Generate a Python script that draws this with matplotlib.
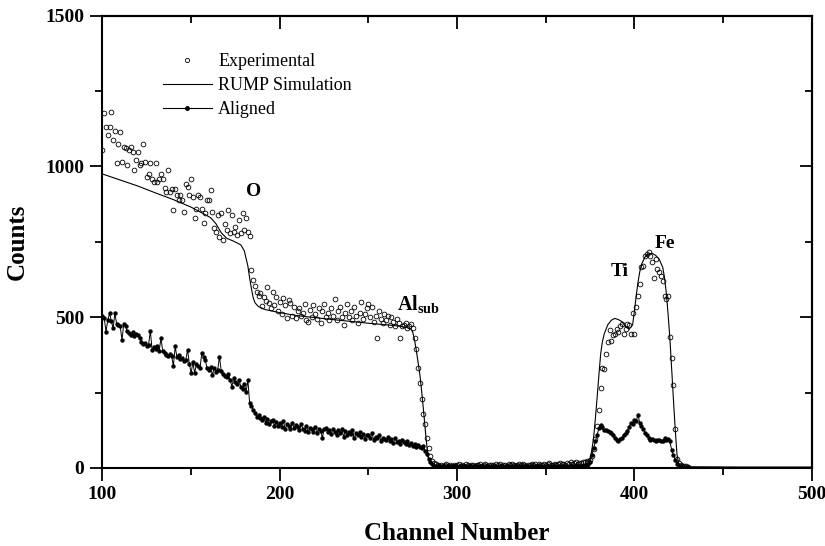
import numpy as np
import matplotlib
matplotlib.use("Agg")
import matplotlib.pyplot as plt
from matplotlib.lines import Line2D

plt.rcParams['font.family'] = ['Liberation Serif', 'DejaVu Serif']
plt.rcParams['mathtext.fontset'] = 'custom'
plt.rcParams['mathtext.rm'] = 'Liberation Serif'
plt.rcParams['mathtext.bf'] = 'Liberation Serif:bold'

# --- RBS spectra, one value per channel (100..430) ---
channels = np.arange(100, 431)

experimental = [
    1054, 1176, 1132, 1104, 1132, 1182, 1089, 1118, 1010, 1076,
    1115, 1015, 1065, 1060, 1004, 1054, 1065, 1048, 987, 1023,
    1048, 1004, 1010, 1076, 1015, 965, 976, 1010, 960, 949,
    1010, 949, 960, 976, 960, 927, 916, 987, 916, 924,
    855, 924, 905, 888, 905, 888, 850, 943, 932, 905,
    960, 899, 828, 860, 905, 899, 860, 811, 845, 888,
    888, 921, 850, 795, 784, 838, 767, 844, 756, 810,
    789, 855, 778, 838, 784, 800, 773, 822, 778, 844,
    790, 828, 784, 770, 657, 624, 602, 585, 569, 580,
    536, 568, 555, 601, 547, 531, 585, 540, 568, 520,
    551, 510, 562, 540, 496, 557, 546, 505, 535, 496,
    520, 530, 505, 513, 545, 490, 485, 525, 500, 540,
    510, 495, 530, 480, 520, 545, 500, 515, 490, 530,
    505, 560, 490, 520, 535, 500, 475, 515, 545, 500,
    520, 490, 535, 505, 480, 515, 550, 495, 510, 530,
    545, 500, 535, 485, 505, 432, 520, 495, 480, 510,
    490, 505, 475, 500, 485, 470, 495, 480, 432, 470,
    475, 480, 465, 470, 478, 465, 430, 396, 333, 283,
    230, 180, 146, 100, 67, 40, 23, 15, 12, 9,
    8, 10, 6, 9, 12, 7, 10, 8, 11, 6,
    9, 12, 7, 10, 8, 13, 9, 6, 11, 10,
    7, 11, 9, 13, 8, 10, 12, 7, 9, 11,
    10, 8, 12, 9, 14, 7, 11, 10, 8, 12,
    9, 13, 10, 7, 11, 12, 9, 14, 10, 8,
    11, 9, 13, 10, 12, 8, 14, 11, 9, 13,
    10, 12, 15, 9, 11, 14, 10, 13, 16, 12,
    14, 11, 16, 13, 18, 12, 15, 20, 14, 17,
    16, 20, 18, 22, 18, 25, 40, 62, 96, 140,
    192, 265, 332, 327, 378, 417, 456, 422, 440, 445,
    462, 451, 470, 479, 445, 460, 479, 473, 445, 513,
    445, 535, 569, 609, 665, 670, 704, 710, 717, 704,
    682, 631, 693, 659, 650, 637, 620, 569, 560, 569,
    434, 366, 276, 130, 28, 15, 10, 8, 6, 5,
    4,
]

aligned = [
    505, 497, 452, 490, 513, 488, 463, 513, 478, 475,
    470, 424, 478, 470, 454, 448, 440, 452, 437, 445,
    441, 430, 419, 410, 415, 403, 408, 454, 392, 400,
    396, 405, 389, 430, 387, 380, 375, 370, 378, 372,
    337, 403, 368, 376, 360, 365, 354, 358, 392, 345,
    315, 350, 314, 345, 338, 330, 380, 368, 358, 330,
    325, 335, 308, 330, 318, 326, 369, 320, 312, 305,
    300, 310, 292, 270, 298, 285, 278, 292, 270, 262,
    280, 252, 292, 215, 205, 193, 182, 170, 176, 165,
    158, 170, 150, 162, 145, 155, 160, 140, 152, 138,
    148, 135, 155, 130, 145, 140, 128, 150, 132, 142,
    136, 125, 145, 130, 122, 140, 118, 133, 128, 120,
    135, 115, 130, 124, 100, 128, 132, 118, 125, 112,
    130, 120, 108, 125, 115, 128, 104, 122, 110, 118,
    112, 125, 98, 116, 108, 120, 102, 114, 96, 110,
    108, 100, 115, 92, 104, 98, 110, 90, 100, 95,
    92, 102, 88, 96, 84, 98, 86, 90, 80, 92,
    85, 78, 88, 76, 82, 72, 80, 70, 75, 68,
    65, 72, 55, 45, 30, 18, 12, 8, 6, 5,
    6, 4, 7, 5, 3, 6, 8, 4, 5, 7,
    5, 3, 6, 8, 4, 5, 7, 3, 6, 4,
    7, 5, 4, 8, 6, 3, 5, 7, 4, 6,
    5, 8, 4, 6, 3, 7, 5, 4, 8, 6,
    4, 6, 7, 3, 5, 8, 6, 4, 5, 7,
    6, 3, 5, 7, 4, 6, 8, 5, 3, 6,
    5, 7, 4, 6, 8, 5, 3, 7, 6, 4,
    6, 5, 8, 4, 7, 6, 5, 9, 6, 8,
    7, 6, 9, 8, 12, 21, 43, 65, 88, 110,
    132, 144, 135, 127, 125, 122, 119, 116, 108, 99,
    92, 88, 95, 99, 110, 115, 122, 135, 149, 145,
    160, 155, 177, 149, 138, 130, 116, 108, 99, 94,
    96, 94, 88, 92, 94, 88, 90, 99, 92, 95,
    88, 60, 43, 27, 12, 8, 5, 4, 3, 3,
    3,
]

# RUMP simulation curve
rump_channel = [100, 110, 120, 130, 140, 150, 158, 161, 164, 167, 170, 174,
                178, 180, 182, 183, 184, 185, 186, 188, 192, 200, 210, 230,
                250, 265, 272, 274, 275, 276, 277, 278, 279, 280, 281, 282,
                283, 284, 285, 287, 290, 320, 360, 370, 373, 374, 375, 376,
                377, 378, 379, 380, 381, 382, 383, 385, 387, 389, 391, 393,
                395, 397, 399, 400, 401, 402, 403, 404, 406, 408, 410, 412,
                414, 416, 417, 418, 419, 420, 421, 422, 423, 424, 425, 426,
                428, 460, 500]
rump_counts = [975, 955, 935, 912, 890, 865, 840, 830, 810, 780, 762, 752,
               740, 720, 670, 630, 595, 565, 548, 535, 525, 515, 505, 492,
               480, 472, 466, 460, 450, 425, 390, 350, 310, 255, 195, 130,
               70, 30, 15, 6, 4, 4, 5, 6, 8, 12, 30, 60,
               100, 165, 235, 310, 380, 420, 445, 475, 490, 496, 492, 485,
               468, 460, 475, 520, 570, 615, 650, 675, 700, 710, 712, 705,
               692, 665, 630, 580, 510, 430, 330, 228, 130, 45, 15, 6,
               4, 3, 3]

x_ticks = [100, 200, 300, 400, 500]
y_ticks = [0, 500, 1000, 1500]

fig = plt.figure(figsize=(8.25, 5.46), dpi=100)
ax = fig.add_axes([0.1242, 0.143, 0.8597, 0.8282])

ax.plot(rump_channel, rump_counts, color='black', lw=0.8, zorder=3)
ax.plot(channels, aligned, color='black', lw=0.7, marker='o', ms=2.8,
        mfc='black', mec='black', mew=0.3, zorder=2)
ax.plot(channels, experimental, ls='none', marker='o', ms=3.4,
        mfc='none', mec='black', mew=0.6, zorder=4)

ax.set_xlim(100, 500)
ax.set_ylim(0, 1500)
ax.set_xticks(x_ticks)
ax.set_xticks([150, 250, 350, 450], minor=True)
ax.set_yticks(y_ticks)
ax.set_yticks([250, 750, 1250], minor=True)
ax.tick_params(which='major', direction='out', length=9, width=1.3,
               labelsize=14, pad=4)
ax.tick_params(which='minor', direction='out', length=5, width=1.3)
for lbl in ax.get_xticklabels() + ax.get_yticklabels():
    lbl.set_fontweight('bold')
for sp in ax.spines.values():
    sp.set_linewidth(1.5)

# inward ticks on the top and right frame
top = ax.secondary_xaxis('top')
top.set_xticks(x_ticks)
top.set_xticks([150, 250, 350, 450], minor=True)
top.tick_params(which='major', direction='in', length=9, width=1.3,
                labeltop=False)
top.tick_params(which='minor', direction='in', length=5, width=1.3)
top.spines['top'].set_linewidth(1.5)
right = ax.secondary_yaxis('right')
right.set_yticks(y_ticks)
right.set_yticks([250, 750, 1250], minor=True)
right.tick_params(which='major', direction='in', length=9, width=1.3,
                  labelright=False)
right.tick_params(which='minor', direction='in', length=5, width=1.3)
right.spines['right'].set_linewidth(1.5)

ax.set_xlabel('Channel Number', fontsize=18, fontweight='bold', labelpad=14)
ax.set_ylabel('Counts', fontsize=18, fontweight='bold', labelpad=12)

# peak labels
ax.text(185.4, 917, 'O', fontsize=14, fontweight='bold', ha='center', va='center')
ax.text(266, 524, r'$\mathbf{Al_{sub}}$', fontsize=14.5, ha='left', va='baseline')
ax.text(391.9, 651, 'Ti', fontsize=14, fontweight='bold', ha='center', va='center')
ax.text(417, 745, 'Fe', fontsize=14, fontweight='bold', ha='center', va='center')

handles = [
    Line2D([], [], ls='none', marker='o', ms=3, mfc='none', mec='black', mew=0.6),
    Line2D([], [], color='black', lw=0.8),
    Line2D([], [], color='black', lw=0.8, marker='o', ms=2.5),
]
ax.legend(handles, ['Experimental', 'RUMP Simulation', 'Aligned'],
          loc='upper left', bbox_to_anchor=(0.0853, 0.917), frameon=False,
          fontsize=13, handlelength=2.7, handletextpad=0.35,
          labelspacing=0.38, borderpad=0, borderaxespad=0)

fig.savefig('out.png', dpi=100)
